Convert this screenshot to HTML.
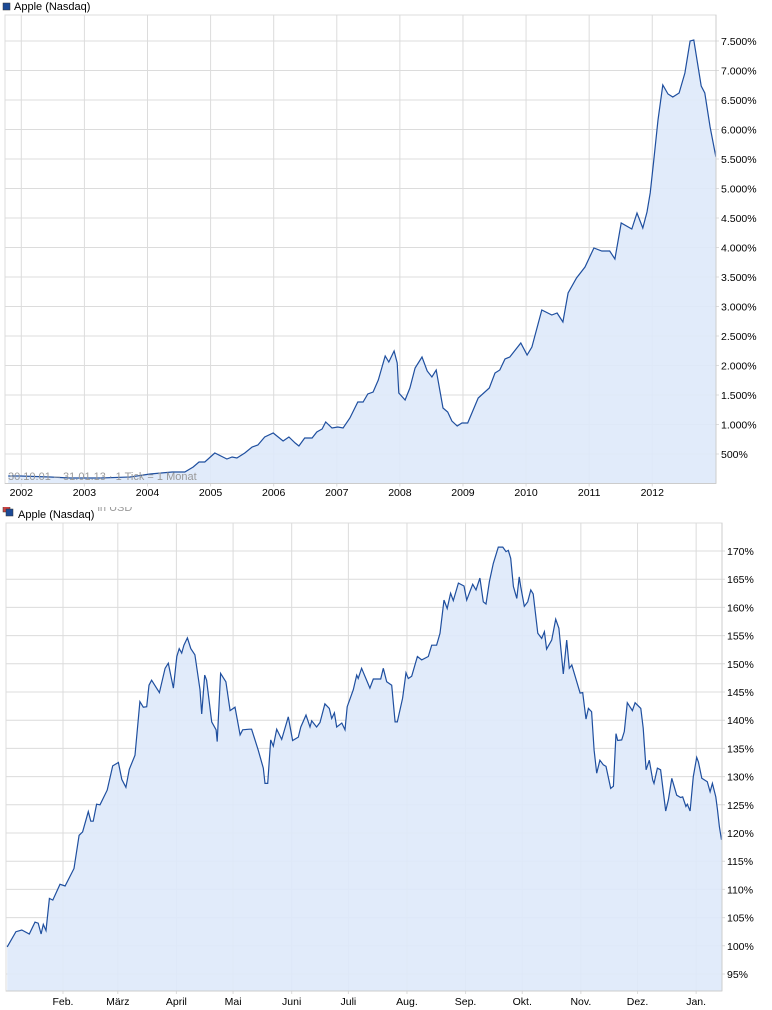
<!DOCTYPE html>
<html><head><meta charset="utf-8"><style>
html,body{margin:0;padding:0;background:#fff;}
svg{display:block;font-family:"Liberation Sans",sans-serif;}
</style></head><body>
<svg id="svg" width="772" height="1010" viewBox="0 0 772 1010">
<g>
 <rect x="3" y="3" width="7" height="7" fill="#1c4a96" stroke="#333" stroke-width="0.5"/>
 <text x="14" y="10" font-size="11" fill="#000">Apple (Nasdaq)</text>
 <g id="topGrid"></g>
 <g id="topSeries"></g>
 <text x="8" y="480" font-size="11" fill="#999">30.10.01 – 31.01.13 · 1 Tick = 1 Monat</text>
 <g id="topAxes"></g>
</g>
<g>
 <rect x="3" y="505" width="7" height="7" fill="#c44" stroke="#333" stroke-width="0.5"/>
 <text x="18" y="511" font-size="11" fill="#999">Apple (Nasdaq) in USD</text>
 <rect x="0" y="498" width="330" height="9" fill="#fff"/>
 <rect x="6" y="509" width="7" height="7" fill="#1c4a96" stroke="#333" stroke-width="0.5"/>
 <rect x="17" y="507" width="80" height="12" fill="#fff"/>
 <text x="18" y="518" font-size="11" fill="#000">Apple (Nasdaq)</text>
 <g id="botGrid"></g>
 <g id="botSeries"></g>
 <g id="botAxes"></g>
</g>
</svg>
<script>
// ---- top chart data (month index from Jan 2002, percent) ----
const topMonths=[-2.5,-0.25,5.5,9.3,15,20.7,24.5,28.7,31.1,32.7,33.8,34.9,36.8,39.1,40.1,41,42.5,43.9,45,46.3,47.9,49.8,50.9,52.1,52.8,53.9,55.3,56.2,57.2,57.9,59.1,60.2,61.2,62.5,64,65,65.9,66.9,67.9,69.2,69.9,70.9,71.5,71.8,73,73.9,74.9,76.2,77.2,78.1,78.9,80.2,81.1,81.9,82.9,83.8,84.9,86.9,89,90.1,91,92,92.9,95,96.2,97.1,99,100.9,101.9,103,104,105.6,107.2,108.9,110.4,111.9,112.9,114.1,116.1,117.1,118.2,119,119.6,120.3,121.1,122,123,123.9,125.1,126.2,127.2,127.9,129.3,130,131,132.1];
const topValues=[127,127,110,93,93,110,161,195,195,280,364,364,517,415,449,432,517,619,653,788,856,720,788,686,636,771,771,873,924,1042,941,958,941,1110,1381,1381,1517,1551,1754,2161,2059,2246,2042,1534,1415,1619,1958,2144,1907,1805,1924,1280,1212,1059,975,1025,1025,1449,1619,1873,1924,2110,2144,2381,2178,2314,2941,2856,2890,2737,3229,3483,3670,3992,3941,3941,3805,4415,4314,4585,4331,4602,4924,5483,6161,6754,6602,6551,6619,6958,7500,7517,6737,6619,6043,5534];
const topTicks=[500,1000,1500,2000,2500,3000,3500,4000,4500,5000,5500,6000,6500,7000,7500];
const topTickLabels=["500%","1.000%","1.500%","2.000%","2.500%","3.000%","3.500%","4.000%","4.500%","5.000%","5.500%","6.000%","6.500%","7.000%","7.500%"];
const topYears=["2002","2003","2004","2005","2006","2007","2008","2009","2010","2011","2012"];

// ---- bottom chart data (day from 1 Jan 2012, percent) ----
const botDays=[1.5,6.1,9.2,13.2,16.2,17.9,19.4,20.6,22,23.8,25.6,29.4,32.1,36.8,39.5,41.4,44.4,45.7,47,48.8,50.6,54.4,57.3,60.3,62.1,64.3,66.1,69.1,71.7,73.5,75.3,76.5,77.9,82,85,86.7,89.4,91.2,92.5,93.8,95,96.8,98.6,100.8,103.5,104.4,106,107,109.7,112,112.6,114.4,117.2,119.4,122,124.7,126.1,129.6,130.8,134.3,137,137.9,139.3,140.9,142.3,144.1,146.7,150.2,152.5,155.5,156.8,159.6,161.7,162.6,165.2,167,169.6,171.9,173.2,174.6,175.8,178.5,180.2,181.4,184.6,186.4,187.2,189,193.4,195.2,199.1,200.5,202.3,204.9,206.7,207.9,210.7,212.5,213.7,215.5,218.5,220.8,224.3,226.1,228.7,230.5,232.6,234.3,236.1,237.5,240.2,243.2,244.6,247.8,249.5,251.6,253.4,254.8,256.6,258.7,261.3,263.7,265.4,266.6,267.9,269.3,271.1,272.4,273.2,275.1,276.9,278.5,279.8,282.2,284.3,285.7,286.9,289.6,291.7,293.4,295.7,297.5,298.9,300.2,304.6,306,307.7,309,310.7,312,313.4,315.1,316.9,318.3,320.8,322.2,323.6,324.5,326.6,328,329.6,332.3,333.7,336.7,338,339.5,341.2,343,343.7,345.5,347.2,349.9,351.3,353.1,355.7,357.8,358.9,360.6,361.3,362.8,364.5,366.3,367.2,369,371.9,373.4,374.6,376.4,377.3,378.3,379.4];
const botValues=[99.8,102.5,102.8,102.1,104.2,104,102.1,103.8,102.7,108.4,108.1,110.9,110.6,113.7,119.6,120.2,123.8,122.1,122.1,125.1,125,127.6,131.9,132.5,129.5,128.1,131.3,133.8,143.3,142.3,142.4,146.2,147.1,144.9,149.2,150.1,145.7,151.3,152.7,151.9,153.3,154.6,152.7,151.6,145.4,141.1,148,147.1,139.7,138.3,136.2,148.3,146.8,141.7,142.3,137.4,138.3,138.4,138.4,134.7,131.5,128.8,128.8,136.5,135.4,138.4,136.6,140.6,136.4,137,138.8,140.9,138.8,139.9,138.8,139.6,142.9,142.1,140.3,141.3,138.8,139.5,138.3,142.4,145.4,148,147.4,149.2,145.7,147.3,147.3,149.2,146.8,146.2,139.7,139.7,143.9,148.4,147.4,147.8,151.3,150.7,151.3,153.3,153.3,155.4,161.3,159.8,162.5,161.2,164.3,163.8,161.3,164.1,163.1,165.2,161,160.6,164.6,167.8,170.7,170.7,169.9,170.1,168.7,163.7,161.6,165.4,163.7,160.2,161,163.1,162.4,155.4,154.5,155.7,152.6,154.2,157.9,156.3,148.2,154.2,149.2,149.8,144.8,144.9,140.2,142.1,141.5,134.7,130.6,132.9,132.1,131.8,127.9,128.3,137.6,136.4,136.5,138,143.1,141.7,143.1,142.1,138.6,131.2,132.9,129.4,128.8,131.5,131.2,123.9,125.9,129.7,126.7,126.3,126.4,124.7,125.1,123.9,130,133.4,132.6,129.7,129.1,127.3,128.8,126.4,124.1,121.1,118.8];
const botTicks=[95,100,105,110,115,120,125,130,135,140,145,150,155,160,165,170];
const botMonthDays=[31,60,91,121,152,182,213,244,274,305,335,366];
const botMonthLabels=["Feb.","März","April","Mai","Juni","Juli","Aug.","Sep.","Okt.","Nov.","Dez.","Jan."];

const NS="http://www.w3.org/2000/svg";
function mk(tag,attrs,parent){const e=document.createElementNS(NS,tag);for(const k in attrs)e.setAttribute(k,attrs[k]);parent.appendChild(e);return e;}
const GRID="#dcdcdc", LINE="#1f4f9f", FILL="#dee9f9";
const FS=10.5;

const TL=5,TR=716,TT=15,TB=483.5;
const xTop=m=>21.3+m*5.258;
const yTop=v=>TB-v/16.95;
const BL=6,BR=722,BT=523,BB=991;
const xBot=d=>4.4+d*1.89;
const yBot=v=>974-(v-95)*5.64;

(function(){
 const g=document.getElementById('topGrid');
 mk('rect',{x:TL,y:TT,width:TR-TL,height:TB-TT,fill:'none',stroke:GRID},g);
 topTicks.forEach((t,i)=>{
  const y=yTop(t);
  const l=mk('line',{x1:TL,x2:TR+3,y1:y,y2:y,stroke:GRID},g);
  
  
 });
 topYears.forEach((yr,i)=>{
  const x=xTop(i*12);
  const l=mk('line',{x1:x,x2:x,y1:TT,y2:TB+3,stroke:GRID},g);
  
  
 });
 const s=document.getElementById('topSeries');
 let pts=topMonths.map((m,i)=>[Math.max(TL,xTop(m)),yTop(topValues[i])]);
 let d='M'+pts.map(p=>p[0].toFixed(1)+','+p[1].toFixed(1)).join('L');
 const area=mk('path',{d:d+'L'+pts[pts.length-1][0].toFixed(1)+','+TB+'L'+pts[0][0].toFixed(1)+','+TB+'Z',fill:FILL,'fill-opacity':0.9},s);
 
 
 const line=mk('path',{d:d,fill:'none',stroke:LINE,'stroke-width':1.2},s);
 
 
 const a=document.getElementById('topAxes');
 mk('line',{x1:TR,x2:TR,y1:TT,y2:TB,stroke:'#ccc'},a);
 mk('line',{x1:TL,x2:TR,y1:TB,y2:TB,stroke:'#ccc'},a);
 topTicks.forEach((t,i)=>{
  const tx=mk('text',{x:TR+5,y:yTop(t)+4,'font-size':FS,fill:'#000'},a);
  tx.textContent=topTickLabels[i];
  
  
 });
 topYears.forEach((yr,i)=>{
  const tx=mk('text',{x:xTop(i*12),y:496,'font-size':FS,fill:'#000','text-anchor':'middle'},a);
  tx.textContent=yr;
  
  
 });
})();

(function(){
 const g=document.getElementById('botGrid');
 mk('rect',{x:BL,y:BT,width:BR-BL,height:BB-BT,fill:'none',stroke:GRID},g);
 botTicks.forEach(t=>{
  const y=yBot(t);
  const l=mk('line',{x1:BL,x2:BR+3,y1:y,y2:y,stroke:GRID},g);
  
  
 });
 botMonthDays.forEach(dd=>{
  const x=xBot(dd);
  const l=mk('line',{x1:x,x2:x,y1:BT,y2:BB+3,stroke:GRID},g);
  
  
 });
 const s=document.getElementById('botSeries');
 let pts=botDays.map((dd,i)=>[Math.max(BL,xBot(dd)),yBot(botValues[i])]);
 let d='M'+pts.map(p=>p[0].toFixed(1)+','+p[1].toFixed(1)).join('L');
 const area=mk('path',{d:d+'L'+pts[pts.length-1][0].toFixed(1)+','+BB+'L'+pts[0][0].toFixed(1)+','+BB+'Z',fill:FILL,'fill-opacity':0.9},s);
 
 
 const line=mk('path',{d:d,fill:'none',stroke:LINE,'stroke-width':1.2},s);
 
 
 const a=document.getElementById('botAxes');
 mk('line',{x1:BR,x2:BR,y1:BT,y2:BB,stroke:'#ccc'},a);
 mk('line',{x1:BL,x2:BR,y1:BB,y2:BB,stroke:'#ccc'},a);
 botTicks.forEach(t=>{
  const tx=mk('text',{x:BR+5,y:yBot(t)+4,'font-size':FS,fill:'#000'},a);
  tx.textContent=t+'%';
  
  
 });
 botMonthDays.forEach((dd,i)=>{
  const tx=mk('text',{x:xBot(dd),y:1005,'font-size':FS,fill:'#000','text-anchor':'middle'},a);
  tx.textContent=botMonthLabels[i];
  
  
 });
})();
</script>
</body></html>
